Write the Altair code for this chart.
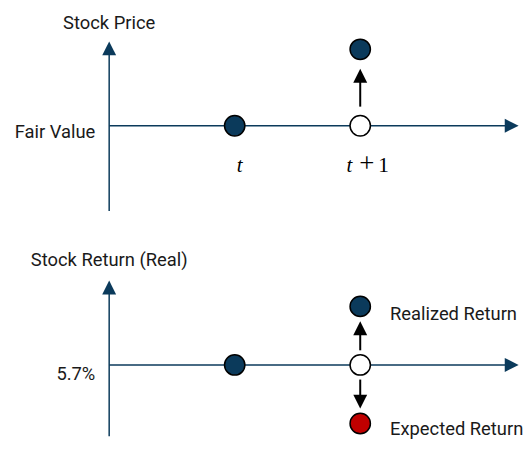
import altair as alt
import pandas as pd

# ---------------- data ----------------
# horizontal (time) positions
time_x = [1, 2]                  # t, t + 1

# top panel: stock price relative to fair value (fair value = 0)
price_x = [1, 2, 2]
price_y = [0, 0, 1]
price_kind = ["observed", "baseline", "observed"]

# bottom panel: real stock return relative to 5.7 % (5.7 % = 0)
ret_x = [1, 2, 2, 2]
ret_y = [0, 0, 1, -1]
ret_kind = ["observed", "baseline", "observed", "expected"]

top_axis_title = "Stock Price"
top_level_label = "Fair Value"
bottom_axis_title = "Stock Return (Real)"
bottom_level_label = "5.7%"
realized_label = "Realized Return"
expected_label = "Expected Return"

# ---------------- style ----------------
NAVY = "#0B3A5B"
RED = "#C00000"
SANS = "Roboto"
SERIF = "Liberation Serif"
FS = 18.5

W = 516
PX_X = 126.5
X_DOM = [-0.806, -0.806 + W / PX_X]
X_TIP = 3.262

UP = "M0,0L1,2L-1,2Z"
DOWN = "M0,0L1,-2L-1,-2Z"
RIGHT = "M0,0L-2,-1L-2,1Z"
HEAD = 196

kind_scale = alt.Scale(domain=["observed", "baseline", "expected"],
                       range=[NAVY, "white", RED])


def one(**kw):
    return pd.DataFrame([kw])


def panel(ydom, ytip, ybot, pts_x, pts_y, pts_kind, title, title_dy,
          level, level_dy, px_per_unit):
    xs = alt.Scale(domain=X_DOM, nice=False, zero=False)
    ys = alt.Scale(domain=ydom, nice=False, zero=False)
    X = lambda f: alt.X(f, type="quantitative", scale=xs, axis=None)
    Y = lambda f: alt.Y(f, type="quantitative", scale=ys, axis=None)

    layers = []
    # vertical axis line + arrowhead
    layers.append(alt.Chart(one(x=0, y=ybot, y2=ytip - 7 / px_per_unit))
                  .mark_rule(color=NAVY, strokeWidth=1.5)
                  .encode(x=X("x"), y=Y("y"), y2="y2"))
    layers.append(alt.Chart(one(x=0, y=ytip))
                  .mark_point(shape=UP, size=HEAD, filled=True, color=NAVY, opacity=1)
                  .encode(x=X("x"), y=Y("y")))
    # horizontal axis line + arrowhead
    layers.append(alt.Chart(one(x=0, x2=X_TIP - 7 / PX_X, y=0))
                  .mark_rule(color=NAVY, strokeWidth=1.5)
                  .encode(x=X("x"), x2="x2", y=Y("y")))
    layers.append(alt.Chart(one(x=X_TIP, y=0))
                  .mark_point(shape=RIGHT, size=HEAD, filled=True, color=NAVY, opacity=1)
                  .encode(x=X("x"), y=Y("y")))

    # black arrows from the baseline circle toward each displaced point
    df = pd.DataFrame({"x": pts_x, "y": pts_y, "kind": pts_kind})
    moved = df[df["y"] != 0]
    for _, r in moved.iterrows():
        s = 1 if r["y"] > 0 else -1
        start = 0.25 * r["y"]
        tip = 0.745 * r["y"]
        shaft_end = tip - s * 7 / px_per_unit
        layers.append(alt.Chart(one(x=r["x"], y=start, y2=shaft_end))
                      .mark_rule(color="black", strokeWidth=2)
                      .encode(x=X("x"), y=Y("y"), y2="y2"))
        layers.append(alt.Chart(one(x=r["x"], y=tip))
                      .mark_point(shape=UP if s > 0 else DOWN, size=HEAD,
                                  filled=True, color="black", opacity=1)
                      .encode(x=X("x"), y=Y("y")))

    # circles
    layers.append(alt.Chart(df)
                  .mark_point(shape="circle", size=420, filled=True,
                              stroke="black", strokeWidth=1.5, opacity=1)
                  .encode(x=X("x"), y=Y("y"),
                          fill=alt.Fill("kind:N", scale=kind_scale, legend=None)))

    # axis title and level label
    layers.append(alt.Chart(one(x=0, y=ytip, t=title))
                  .mark_text(font=SANS, fontSize=FS, color="#1a1a1a", align="center",
                             baseline="alphabetic", dy=title_dy)
                  .encode(x=X("x"), y=Y("y"), text="t:N"))
    layers.append(alt.Chart(one(x=0, y=0, t=level))
                  .mark_text(font=SANS, fontSize=FS, color="#1a1a1a", align="right",
                             baseline="alphabetic", dx=-14, dy=level_dy)
                  .encode(x=X("x"), y=Y("y"), text="t:N"))
    return layers, X, Y


# ---- top panel ----
H1 = 212
top_layers, Xt, Yt = panel([-1.234, 1.519], 1.104, -1.117,
                           price_x, price_y, price_kind,
                           top_axis_title, -12, top_level_label, 12, 77)

time_specs = [
    (time_x[0], "t", SERIF, "italic", 21, 5),
    (time_x[1], "t", SERIF, "italic", 21, -11),
    (time_x[1], "+", SERIF, "normal", 27, 6.5),
    (time_x[1], "1", SERIF, "normal", 21.5, 23.5),
]
for xv, txt, font, style, size, dx in time_specs:
    top_layers.append(alt.Chart(one(x=xv, y=0, t=txt))
                      .mark_text(font=font, fontStyle=style, fontSize=size, color="black",
                                 align="center", baseline="alphabetic", dx=dx, dy=47)
                      .encode(x=Xt("x"), y=Yt("y"), text="t:N"))

top = alt.layer(*top_layers).properties(width=W, height=H1)

# ---- bottom panel ----
H2 = 218
bot_top = 2.475
bot_layers, Xb, Yb = panel([bot_top - H2 / 59, bot_top], 1.441, bot_top - H2 / 59,
                           ret_x, ret_y, ret_kind,
                           bottom_axis_title, -15, bottom_level_label, 15, 59)
for yv, txt, dy in [(1, realized_label, 14), (-1, expected_label, 12)]:
    bot_layers.append(alt.Chart(one(x=2, y=yv, t=txt))
                      .mark_text(font=SANS, fontSize=FS, color="#1a1a1a", align="left",
                                 baseline="alphabetic", dx=30, dy=dy)
                      .encode(x=Xb("x"), y=Yb("y"), text="t:N"))
bottom = alt.layer(*bot_layers).properties(width=W, height=H2)

chart = (alt.vconcat(top, bottom, spacing=0)
         .properties(padding=0)
         .configure_view(stroke=None)
         .configure_concat(spacing=0))

chart.save("out.html", embed_options={"renderer": "svg", "actions": False})
